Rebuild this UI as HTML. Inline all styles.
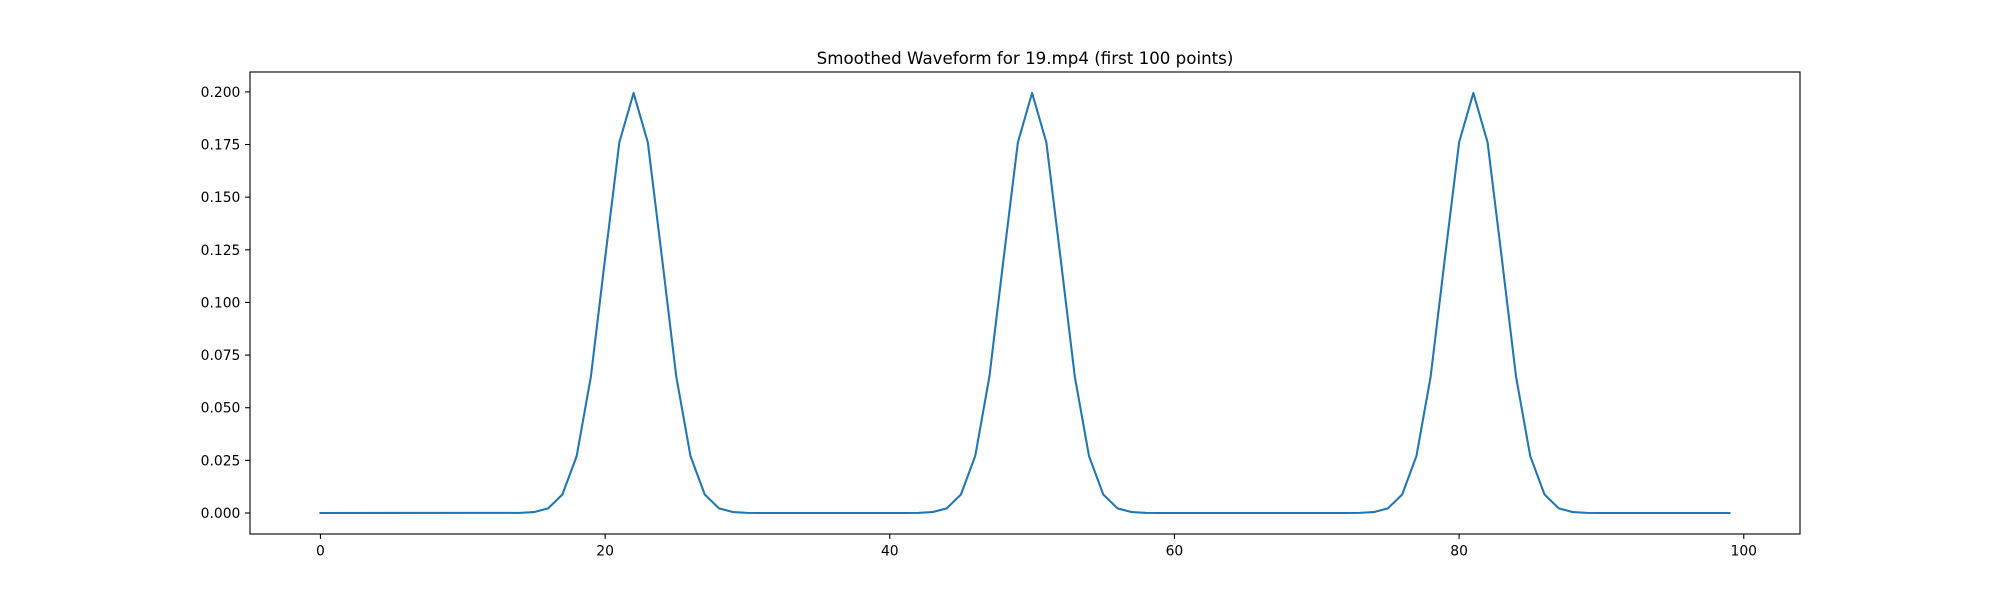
<!DOCTYPE html>
<html>
<head>
<meta charset="utf-8">
<style>
html,body{margin:0;padding:0;background:#fff;}
svg{display:block;}
text{font-family:"DejaVu Sans","Liberation Sans",sans-serif;fill:#000;}
</style>
</head>
<body>
<svg width="2000" height="600" viewBox="0 0 2000 600" xmlns="http://www.w3.org/2000/svg">
<rect x="0" y="0" width="2000" height="600" fill="#fff"/>
<!-- data line -->
<g transform="translate(320.45,513.0) scale(14.2332,-2105.6)">
<polyline fill="none" stroke="#1f77b4" stroke-width="2.08" stroke-linejoin="round" stroke-linecap="square" vector-effect="non-scaling-stroke"
points="0,0 14,0.0000669 15,0.000436 16,0.002216 17,0.008764 18,0.026995 19,0.06476 20,0.12098 21,0.17603 22,0.19947 23,0.17603 24,0.12098 25,0.06476 26,0.026995 27,0.008764 28,0.002216 29,0.000436 30,0.0000669 31,0 41,0 42,0.0000669 43,0.000436 44,0.002216 45,0.008764 46,0.026995 47,0.06476 48,0.12098 49,0.17603 50,0.19947 51,0.17603 52,0.12098 53,0.06476 54,0.026995 55,0.008764 56,0.002216 57,0.000436 58,0.0000669 59,0 72,0 73,0.0000669 74,0.000436 75,0.002216 76,0.008764 77,0.026995 78,0.06476 79,0.12098 80,0.17603 81,0.19947 82,0.17603 83,0.12098 84,0.06476 85,0.026995 86,0.008764 87,0.002216 88,0.000436 89,0.0000669 90,0 99,0"/>
</g>
<!-- axes frame -->
<rect x="250" y="72" width="1550" height="462" fill="none" stroke="#000" stroke-width="1.1"/>
<!-- y ticks -->
<g stroke="#000" stroke-width="1.1">
<line x1="245.1" y1="513.0" x2="250" y2="513.0"/>
<line x1="245.1" y1="460.36" x2="250" y2="460.36"/>
<line x1="245.1" y1="407.72" x2="250" y2="407.72"/>
<line x1="245.1" y1="355.08" x2="250" y2="355.08"/>
<line x1="245.1" y1="302.44" x2="250" y2="302.44"/>
<line x1="245.1" y1="249.8" x2="250" y2="249.8"/>
<line x1="245.1" y1="197.16" x2="250" y2="197.16"/>
<line x1="245.1" y1="144.52" x2="250" y2="144.52"/>
<line x1="245.1" y1="91.88" x2="250" y2="91.88"/>
</g>
<g font-size="13.89" text-anchor="end">
<text x="240.4" y="518.0">0.000</text>
<text x="240.4" y="465.36">0.025</text>
<text x="240.4" y="412.72">0.050</text>
<text x="240.4" y="360.08">0.075</text>
<text x="240.4" y="307.44">0.100</text>
<text x="240.4" y="254.8">0.125</text>
<text x="240.4" y="202.16">0.150</text>
<text x="240.4" y="149.52">0.175</text>
<text x="240.4" y="96.88">0.200</text>
</g>
<!-- x ticks -->
<g stroke="#000" stroke-width="1.1">
<line x1="320.45" y1="534" x2="320.45" y2="538.9"/>
<line x1="605.11" y1="534" x2="605.11" y2="538.9"/>
<line x1="889.78" y1="534" x2="889.78" y2="538.9"/>
<line x1="1174.44" y1="534" x2="1174.44" y2="538.9"/>
<line x1="1459.1" y1="534" x2="1459.1" y2="538.9"/>
<line x1="1743.77" y1="534" x2="1743.77" y2="538.9"/>
</g>
<g font-size="13.89" text-anchor="middle">
<text x="320.45" y="555.5">0</text>
<text x="605.11" y="555.5">20</text>
<text x="889.78" y="555.5">40</text>
<text x="1174.44" y="555.5">60</text>
<text x="1459.1" y="555.5">80</text>
<text x="1743.77" y="555.5">100</text>
</g>
<text x="1025" y="64" font-size="16.67" text-anchor="middle">Smoothed Waveform for 19.mp4 (first 100 points)</text>
</svg>
</body>
</html>
